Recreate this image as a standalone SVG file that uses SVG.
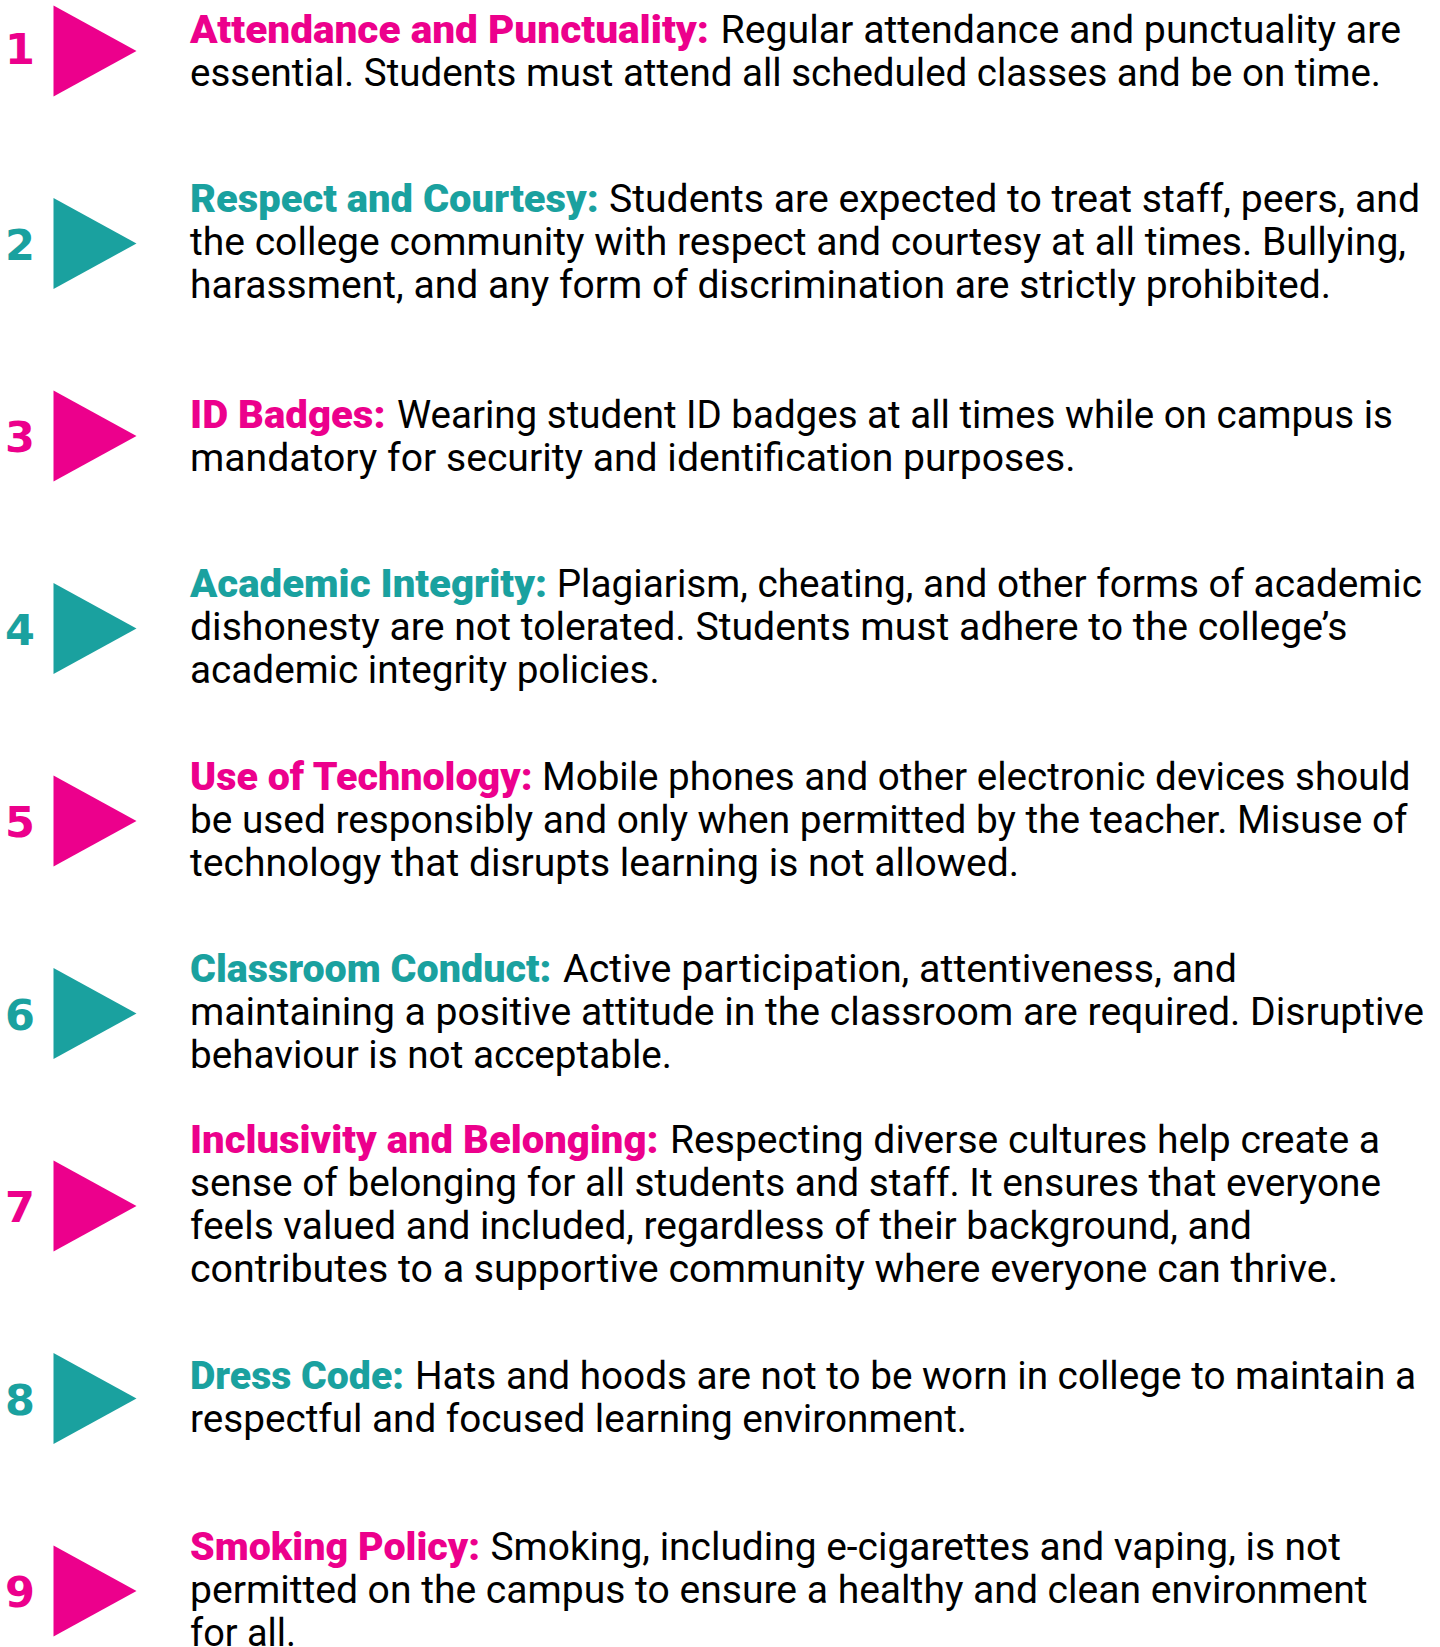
<svg xmlns="http://www.w3.org/2000/svg" width="1440" height="1647" viewBox="0 0 1440 1647">
<style>
.b{font-family:Roboto,"Open Sans","Liberation Sans",sans-serif;font-size:38px;fill:#000}
.h{font-family:Roboto,Lato,"Liberation Sans",sans-serif;font-size:38px;font-weight:900}
.n{font-family:"DejaVu Sans",Roboto,sans-serif;font-size:43px;font-weight:bold;text-anchor:middle}
.p{fill:#EC008C}
.t{fill:#1AA19F}
</style>
<rect width="1440" height="1647" fill="#fff"/>
<g id="item1">
<path class="p" d="M53.5 5.5 L136.5 51 L53.5 96.5 Z"/>
<text class="n p" x="20" y="64">1</text>
<text class="h p" x="190" y="42.5" textLength="519" lengthAdjust="spacingAndGlyphs">Attendance and Punctuality:</text>
<text class="b" x="720.5" y="42.5" textLength="680.5" lengthAdjust="spacingAndGlyphs">Regular attendance and punctuality are</text>
<text class="b" x="190" y="85.5" textLength="1191" lengthAdjust="spacingAndGlyphs">essential. Students must attend all scheduled classes and be on time.</text>
</g>
<g id="item2">
<path class="t" d="M53.5 198 L136.5 243.5 L53.5 289 Z"/>
<text class="n t" x="20" y="259.5">2</text>
<text class="h t" x="190" y="212" textLength="408.7" lengthAdjust="spacingAndGlyphs">Respect and Courtesy:</text>
<text class="b" x="609" y="212" textLength="811" lengthAdjust="spacingAndGlyphs">Students are expected to treat staff, peers, and</text>
<text class="b" x="190" y="255" textLength="1216" lengthAdjust="spacingAndGlyphs">the college community with respect and courtesy at all times. Bullying,</text>
<text class="b" x="190" y="298" textLength="1141" lengthAdjust="spacingAndGlyphs">harassment, and any form of discrimination are strictly prohibited.</text>
</g>
<g id="item3">
<path class="p" d="M53.5 390.5 L136.5 436 L53.5 481.5 Z"/>
<text class="n p" x="20" y="452">3</text>
<text class="h p" x="190" y="427.5" textLength="195.5" lengthAdjust="spacingAndGlyphs">ID Badges:</text>
<text class="b" x="397" y="427.5" textLength="996" lengthAdjust="spacingAndGlyphs">Wearing student ID badges at all times while on campus is</text>
<text class="b" x="190" y="470.5" textLength="885.5" lengthAdjust="spacingAndGlyphs">mandatory for security and identification purposes.</text>
</g>
<g id="item4">
<path class="t" d="M53.5 583 L136.5 628.5 L53.5 674 Z"/>
<text class="n t" x="20" y="644.5">4</text>
<text class="h t" x="190" y="597" textLength="357" lengthAdjust="spacingAndGlyphs">Academic Integrity:</text>
<text class="b" x="556.7" y="597" textLength="865.3" lengthAdjust="spacingAndGlyphs">Plagiarism, cheating, and other forms of academic</text>
<text class="b" x="190" y="640" textLength="1157.5" lengthAdjust="spacingAndGlyphs">dishonesty are not tolerated. Students must adhere to the college’s</text>
<text class="b" x="190" y="683" textLength="469.6" lengthAdjust="spacingAndGlyphs">academic integrity policies.</text>
</g>
<g id="item5">
<path class="p" d="M53.5 775.5 L136.5 821 L53.5 866.5 Z"/>
<text class="n p" x="20" y="837">5</text>
<text class="h p" x="190" y="789.5" textLength="342.5" lengthAdjust="spacingAndGlyphs">Use of Technology:</text>
<text class="b" x="542" y="789.5" textLength="868.6" lengthAdjust="spacingAndGlyphs">Mobile phones and other electronic devices should</text>
<text class="b" x="190" y="832.5" textLength="1217.5" lengthAdjust="spacingAndGlyphs">be used responsibly and only when permitted by the teacher. Misuse of</text>
<text class="b" x="190" y="875.5" textLength="829" lengthAdjust="spacingAndGlyphs">technology that disrupts learning is not allowed.</text>
</g>
<g id="item6">
<path class="t" d="M53.5 968 L136.5 1013.5 L53.5 1059 Z"/>
<text class="n t" x="20" y="1029.5">6</text>
<text class="h t" x="190" y="982" textLength="361.4" lengthAdjust="spacingAndGlyphs">Classroom Conduct:</text>
<text class="b" x="563" y="982" textLength="674" lengthAdjust="spacingAndGlyphs">Active participation, attentiveness, and</text>
<text class="b" x="190" y="1025" textLength="1234" lengthAdjust="spacingAndGlyphs">maintaining a positive attitude in the classroom are required. Disruptive</text>
<text class="b" x="190" y="1068" textLength="482" lengthAdjust="spacingAndGlyphs">behaviour is not acceptable.</text>
</g>
<g id="item7">
<path class="p" d="M53.5 1160.5 L136.5 1206 L53.5 1251.5 Z"/>
<text class="n p" x="20" y="1222">7</text>
<text class="h p" x="190" y="1153" textLength="468.5" lengthAdjust="spacingAndGlyphs">Inclusivity and Belonging:</text>
<text class="b" x="670" y="1153" textLength="710" lengthAdjust="spacingAndGlyphs">Respecting diverse cultures help create a</text>
<text class="b" x="190" y="1196" textLength="1191" lengthAdjust="spacingAndGlyphs">sense of belonging for all students and staff. It ensures that everyone</text>
<text class="b" x="190" y="1239" textLength="1062" lengthAdjust="spacingAndGlyphs">feels valued and included, regardless of their background, and</text>
<text class="b" x="190" y="1282" textLength="1148" lengthAdjust="spacingAndGlyphs">contributes to a supportive community where everyone can thrive.</text>
</g>
<g id="item8">
<path class="t" d="M53.5 1353 L136.5 1398.5 L53.5 1444 Z"/>
<text class="n t" x="20" y="1414.5">8</text>
<text class="h t" x="190" y="1389" textLength="214" lengthAdjust="spacingAndGlyphs">Dress Code:</text>
<text class="b" x="415" y="1389" textLength="1001" lengthAdjust="spacingAndGlyphs">Hats and hoods are not to be worn in college to maintain a</text>
<text class="b" x="190" y="1432" textLength="777" lengthAdjust="spacingAndGlyphs">respectful and focused learning environment.</text>
</g>
<g id="item9">
<path class="p" d="M53.5 1545.5 L136.5 1591 L53.5 1636.5 Z"/>
<text class="n p" x="20" y="1607">9</text>
<text class="h p" x="190" y="1559.5" textLength="290" lengthAdjust="spacingAndGlyphs">Smoking Policy:</text>
<text class="b" x="490.5" y="1559.5" textLength="850.5" lengthAdjust="spacingAndGlyphs">Smoking, including e-cigarettes and vaping, is not</text>
<text class="b" x="190" y="1602.5" textLength="1177.5" lengthAdjust="spacingAndGlyphs">permitted on the campus to ensure a healthy and clean environment</text>
<text class="b" x="190" y="1645.5" textLength="106" lengthAdjust="spacingAndGlyphs">for all.</text>
</g>
<g id="connectors"/>
</svg>
